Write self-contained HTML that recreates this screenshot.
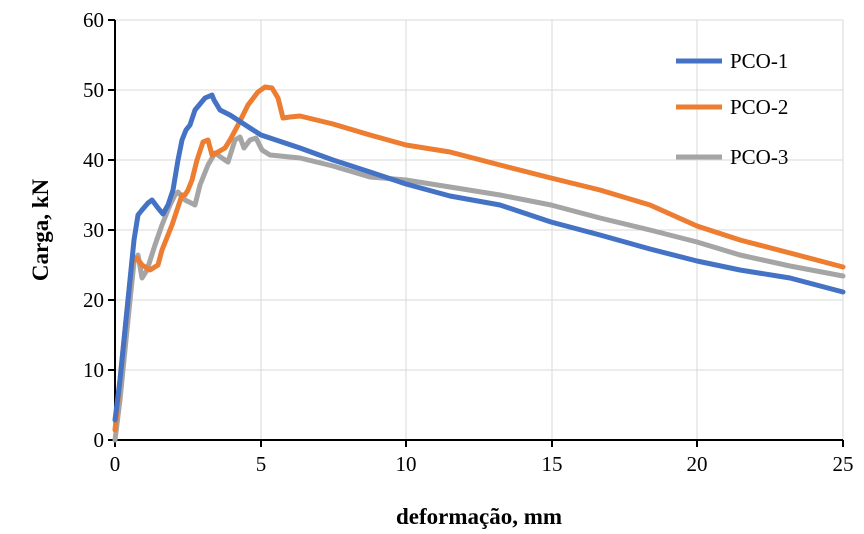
<!DOCTYPE html><html><head><meta charset="utf-8"><style>body{margin:0;background:#fff}svg{display:block;font-family:"Liberation Serif",serif}</style></head><body>
<svg width="864" height="534" viewBox="0 0 864 534">
<g stroke="#d9d9d9" stroke-width="1">
<line x1="115" y1="20" x2="843" y2="20"/><line x1="115" y1="90" x2="843" y2="90"/><line x1="115" y1="160" x2="843" y2="160"/><line x1="115" y1="230" x2="843" y2="230"/><line x1="115" y1="300" x2="843" y2="300"/><line x1="115" y1="370" x2="843" y2="370"/>
<line x1="261" y1="20" x2="261" y2="440"/><line x1="406" y1="20" x2="406" y2="440"/><line x1="552" y1="20" x2="552" y2="440"/><line x1="697" y1="20" x2="697" y2="440"/><line x1="843" y1="20" x2="843" y2="440"/>
</g>
<g stroke="#000" stroke-width="2">
<line x1="115" y1="20" x2="115" y2="441"/><line x1="114" y1="440" x2="843" y2="440"/>
<line x1="108" y1="20" x2="115" y2="20"/><line x1="108" y1="90" x2="115" y2="90"/><line x1="108" y1="160" x2="115" y2="160"/><line x1="108" y1="230" x2="115" y2="230"/><line x1="108" y1="300" x2="115" y2="300"/><line x1="108" y1="370" x2="115" y2="370"/><line x1="108" y1="440" x2="115" y2="440"/>
<line x1="115" y1="440" x2="115" y2="447"/><line x1="261" y1="440" x2="261" y2="447"/><line x1="406" y1="440" x2="406" y2="447"/><line x1="552" y1="440" x2="552" y2="447"/><line x1="697" y1="440" x2="697" y2="447"/><line x1="843" y1="440" x2="843" y2="447"/>
</g>
<g font-size="21" text-anchor="end" fill="#000">
<text x="104" y="27">60</text><text x="104" y="97">50</text><text x="104" y="167">40</text><text x="104" y="237">30</text><text x="104" y="307">20</text><text x="104" y="377">10</text><text x="104" y="447">0</text>
</g>
<g font-size="21" text-anchor="middle" fill="#000">
<text x="115" y="471">0</text><text x="261" y="471">5</text><text x="406" y="471">10</text><text x="552" y="471">15</text><text x="697" y="471">20</text><text x="843" y="471">25</text>
</g>
<text x="479" y="524" font-size="23" font-weight="bold" text-anchor="middle">deformação, mm</text>
<text transform="translate(48,230) rotate(-90)" font-size="23" font-weight="bold" text-anchor="middle">Carga, kN</text>
<g fill="none" stroke-width="5" stroke-linejoin="round" stroke-linecap="round">
<polyline stroke="#a5a5a5" points="115,440 120,400 128,320 134,262 138,255 142,278 147,270 155,245 162,225 170,205 175,195 178,192 185,200 195,205 200,185 208,165 215,153 222,158 228,162 235,140 240,137 244,148 250,140 256,138 262,150 270,155 300,158 333,166 370,177 406,180 450,187 500,195 551,205 600,218 650,230 697,242 740,255 790,266 843,276"/>
<polyline stroke="#ed7d31" points="115,430 120,380 128,300 132,262 137,258 142,265 150,270 158,265 162,250 168,235 172,225 177,210 182,195 185,195 188,190 192,180 197,160 203,142 208,140 212,155 218,152 225,148 230,140 238,125 248,105 258,92 265,87 272,88 278,98 283,118 290,117 300,116 333,124 370,135 406,145 450,152 500,165 551,178 600,190 650,205 697,226 740,240 790,253 843,267"/>
<polyline stroke="#4472c4" points="115,420 120,380 130,280 134,240 138,215 142,210 148,203 152,200 158,208 163,214 168,205 173,190 178,160 182,140 186,130 190,125 195,110 205,98 212,95 214,100 220,110 230,115 250,128 261,135 300,148 333,160 370,172 406,184 450,196 500,205 551,222 600,235 650,249 697,261 740,270 790,278 843,292"/>
</g>
<g stroke-width="5">
<line x1="676" y1="61" x2="722" y2="61" stroke="#4472c4"/><line x1="676" y1="107" x2="722" y2="107" stroke="#ed7d31"/><line x1="676" y1="157" x2="722" y2="157" stroke="#a5a5a5"/>
</g>
<g font-size="21" fill="#000">
<text x="730" y="68">PCO-1</text><text x="730" y="114">PCO-2</text><text x="730" y="164">PCO-3</text>
</g>
</svg></body></html>
